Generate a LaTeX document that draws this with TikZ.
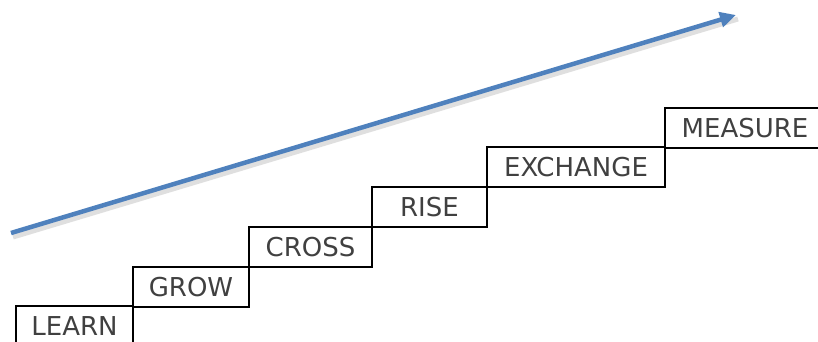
\documentclass[tikz,border=0pt]{standalone}
\usepackage{fontspec}
\setmainfont{DejaVu Sans}
\usetikzlibrary{arrows.meta}
\definecolor{cblue}{RGB}{79,129,189}
\definecolor{ctext}{RGB}{64,64,64}
\tikzset{stepbox/.style={draw=black,line width=2pt,minimum height=40pt,inner sep=0pt,
    anchor=north west,text=ctext,font=\fontsize{26}{30}\selectfont}}

\begin{document}
\begin{tikzpicture}[x=1pt,y=-1pt]
    \useasboundingbox (0,0) rectangle (818,342);
    % steps
    \node[stepbox,minimum width=117pt] (learn)    at (15,305)  {LEARN};
    \node[stepbox,minimum width=116pt] (grow)     at (132,266) {GROW};
    \node[stepbox,minimum width=123pt] (cross)    at (248,226) {CROSS};
    \node[stepbox,minimum width=115pt] (rise)     at (371,186) {RISE};
    \node[stepbox,minimum width=178pt] (exchange) at (486,146) {EXCHANGE};
    \node[stepbox,minimum width=160pt] (measure)  at (664,107) {MEASURE};
    % arrow
    \coordinate (start) at (11,233);
    \coordinate (tip) at (736,15);
    \draw[black!25,opacity=0.5,line width=5pt] ([shift={(2,4)}]start) -- ([shift={(2,4)}]tip);
    \draw[cblue,line width=4.5pt,-{Triangle[length=16pt,width=15pt]}] (start) -- (tip);
\end{tikzpicture}
\end{document}
